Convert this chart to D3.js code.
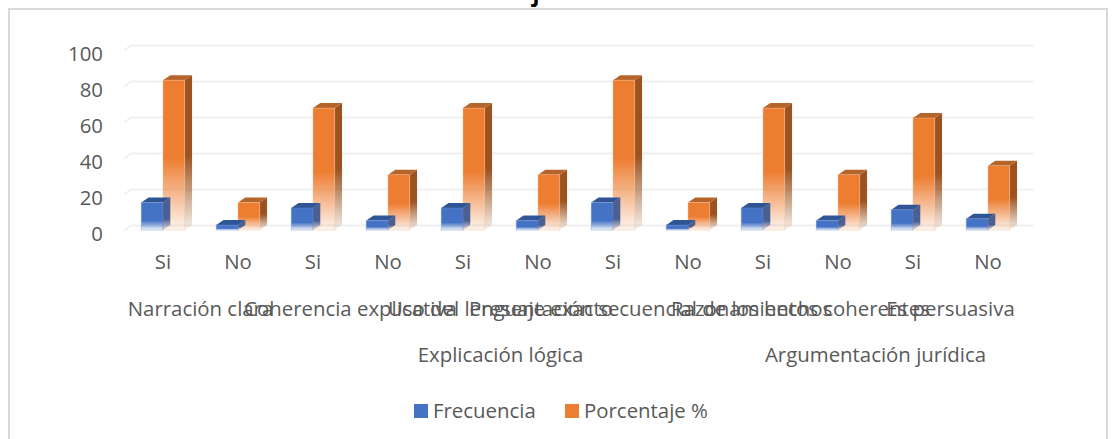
<!DOCTYPE html>
<html>
<head>
<meta charset="utf-8">
<script src="https://cdn.jsdelivr.net/npm/d3@7/dist/d3.min.js"></script>
<style>
  html, body { margin: 0; padding: 0; background: #fff; overflow: hidden; }
  text { font-family: "Open Sans", sans-serif; fill: #595959; }
</style>
</head>
<body>
<div id="chart"></div>
<script>
// Values
const answers = ['Si', 'No', 'Si', 'No', 'Si', 'No', 'Si', 'No', 'Si', 'No', 'Si', 'No'];
const frecuencia = [15.5, 3, 12.5, 5.5, 12.5, 5.5, 15.5, 3, 12.5, 5.5, 11.5, 6.5];
const porcentaje = [83.5, 15.5, 68, 31, 68, 31, 83.5, 15.5, 68, 31, 62.5, 36];
const yTicks = [0, 20, 40, 60, 80, 100];
const criteria = ['Narración clara', 'Coherencia explicativa', 'Uso del lenguaje exacto',
    'Presentación secuencial de los hechos', 'Razonamientos coherentes', 'Es persuasiva'];
const dimensions = ['Explicación lógica', 'Argumentación jurídica'];
const dimensionSpans = [[2, 7], [8, 11]];
const seriesNames = ['Frecuencia', 'Porcentaje %'];

const W = 1112, H = 439;
const depth = { x: 7.3, y: -5 };
const labelSize = '20.4px';

const svg = d3.select('#chart').append('svg')
    .attr('width', W)
    .attr('height', H);

// Outer chart frame, bottom edge falls outside the crop
svg.append('rect')
    .attr('x', 9).attr('y', 9)
    .attr('width', 1098).attr('height', H)
    .attr('fill', '#fff')
    .attr('stroke', '#d9d9d9')
    .attr('stroke-width', 2);

// Only the descender of the title survives the crop
svg.append('text')
    .attr('x', 536).attr('y', 1)
    .attr('text-anchor', 'middle')
    .style('font-size', '23px')
    .style('font-weight', 'bold')
    .style('fill', '#000')
    .text('j');

const x0 = d3.scaleBand()
    .domain(d3.range(answers.length))
    .range([125.5, 1025.5])
    .paddingInner(0.42)
    .paddingOuter(0.21);
const x1 = d3.scaleBand()
    .domain(seriesNames)
    .range([0, x0.bandwidth()]);
const y = d3.scaleLinear().domain([0, 100]).range([230.5, 50.5]);

// Gradients: solid on top, fading out near the floor
const defs = svg.append('defs');
function addFade(id, color, start) {
    const g = defs.append('linearGradient')
        .attr('id', id)
        .attr('x1', 0).attr('y1', 0).attr('x2', 0).attr('y2', 1);
    g.append('stop').attr('offset', start).attr('stop-color', color);
    g.append('stop').attr('offset', 1).attr('stop-color', color).attr('stop-opacity', 0.08);
}
addFade('orangeFront', '#ed7d31', 0.52);
addFade('orangeSide', '#9c5320', 0.52);
addFade('blueFront', '#4472c4', 0.66);
addFade('blueSide', '#4c5f92', 0.66);

// Gridlines on the back wall with the small diagonal on the left
const grid = svg.append('g');
yTicks.forEach(t => {
    const yy = y(t);
    grid.append('path')
        .attr('d', d3.line()([
            [x0.range()[0] - 1.5, yy],
            [x0.range()[0] - 1.5 + depth.x, yy + depth.y],
            [x0.range()[1] + 8.5, yy + depth.y]
        ]))
        .attr('fill', 'none')
        .attr('stroke', '#f0f0f0')
        .attr('stroke-width', 2);
});

// Y axis labels
const yAxis = svg.append('g')
    .attr('transform', 'translate(103,0)')
    .call(d3.axisLeft(y).tickValues(yTicks).tickSize(0).tickPadding(0));
yAxis.select('.domain').remove();
yAxis.selectAll('text')
    .attr('dy', '0.5em')
    .style('font-size', labelSize)
    .style('font-family', '"Open Sans", sans-serif')
    .attr('fill', '#595959');

function drawSeries(name, values, front, side, topColor, edge) {
    const group = svg.append('g').attr('class', 'series');
    values.forEach((v, i) => {
        const left = x0(i) + x1(name);
        const right = left + x1.bandwidth();
        const top = y(v);
        const bottom = y(0) - 0.5;
        const bar = group.append('g');
        bar.append('polygon')
            .attr('points', [[right, top], [right + depth.x, top + depth.y],
                [right + depth.x, bottom + depth.y], [right, bottom]].join(' '))
            .attr('fill', `url(#${side})`);
        bar.append('polygon')
            .attr('points', [[left, top], [left + depth.x, top + depth.y],
                [right + depth.x, top + depth.y], [right, top]].join(' '))
            .attr('fill', topColor);
        bar.append('rect')
            .attr('x', left).attr('y', top)
            .attr('width', x1.bandwidth()).attr('height', bottom - top)
            .attr('fill', `url(#${front})`)
            .attr('stroke', edge)
            .attr('stroke-opacity', 0.5)
            .attr('stroke-width', 0.8);
    });
}

// Orange first, the blue side faces sit over it in the original
drawSeries(seriesNames[1], porcentaje, 'orangeFront', 'orangeSide', '#b5652a', '#f7bd96');
drawSeries(seriesNames[0], frecuencia, 'blueFront', 'blueSide', '#2f5597', '#6f93d4');

// Multi level category axis, the overlaps are in the reference too
const labels = svg.append('g').style('font-size', labelSize);
answers.forEach((a, i) => {
    labels.append('text')
        .attr('x', x0(i) + x0.bandwidth() / 2)
        .attr('y', 269)
        .attr('text-anchor', 'middle')
        .text(a);
});
criteria.forEach((c, i) => {
    const a = x0(i * 2), b = x0(i * 2 + 1) + x0.bandwidth();
    labels.append('text')
        .attr('x', (a + b) / 2)
        .attr('y', 316)
        .attr('text-anchor', 'middle')
        .text(c);
});
dimensions.forEach((d, i) => {
    const span = dimensionSpans[i];
    const a = x0(span[0]), b = x0(span[1]) + x0.bandwidth();
    labels.append('text')
        .attr('x', (a + b) / 2)
        .attr('y', 362)
        .attr('text-anchor', 'middle')
        .text(d);
});

// Legend
const legendX = d3.scaleOrdinal().domain(seriesNames).range([414, 565]);
const legendColor = d3.scaleOrdinal().domain(seriesNames).range(['#4472c4', '#ed7d31']);
seriesNames.forEach(name => {
    svg.append('rect')
        .attr('x', legendX(name)).attr('y', 404)
        .attr('width', 14).attr('height', 14)
        .attr('fill', legendColor(name));
    svg.append('text')
        .attr('x', legendX(name) + 19).attr('y', 418)
        .style('font-size', labelSize)
        .text(name);
});
</script>
</body>
</html>
